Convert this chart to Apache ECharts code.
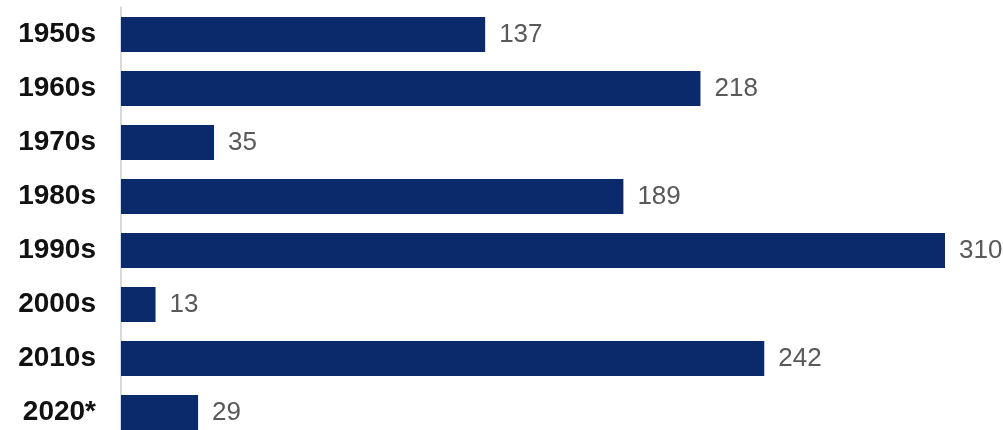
<!DOCTYPE html>
<html><head><meta charset="utf-8">
<script src="https://cdn.jsdelivr.net/npm/echarts@6/dist/echarts.min.js"></script>
<style>html,body{margin:0;padding:0;background:#fff;overflow:hidden}#c{width:1003px;height:460px}</style>
</head><body><div id="c"></div>
<script>
const categories = ['1950s','1960s','1970s','1980s','1990s','2000s','2010s','2020*'];
const values = [137, 218, 35, 189, 310, 13, 242, 29];

const chart = echarts.init(document.getElementById('c'));
chart.setOption({
  animation: false,
  grid: { left: 121, top: 7.5, width: 850.6, height: 432, containLabel: false },
  xAxis: { type: 'value', min: 0, max: 320, show: false },
  yAxis: {
    type: 'category', data: categories, inverse: true,
    axisLine: { show: true, lineStyle: { color: '#d9d9d9', width: 2 } },
    axisTick: { show: false },
    axisLabel: { color: '#111', fontSize: 28, fontWeight: 'bold', fontFamily: 'Liberation Sans, Arial, sans-serif', margin: 25 }
  },
  series: [{
    type: 'bar', data: values, barCategoryGap: '35%',
    itemStyle: { color: '#0a2a6c' },
    label: { show: true, position: 'right', distance: 14, color: '#595959', fontSize: 26, fontFamily: 'Liberation Sans, Arial, sans-serif' }
  }]
});
</script></body></html>
